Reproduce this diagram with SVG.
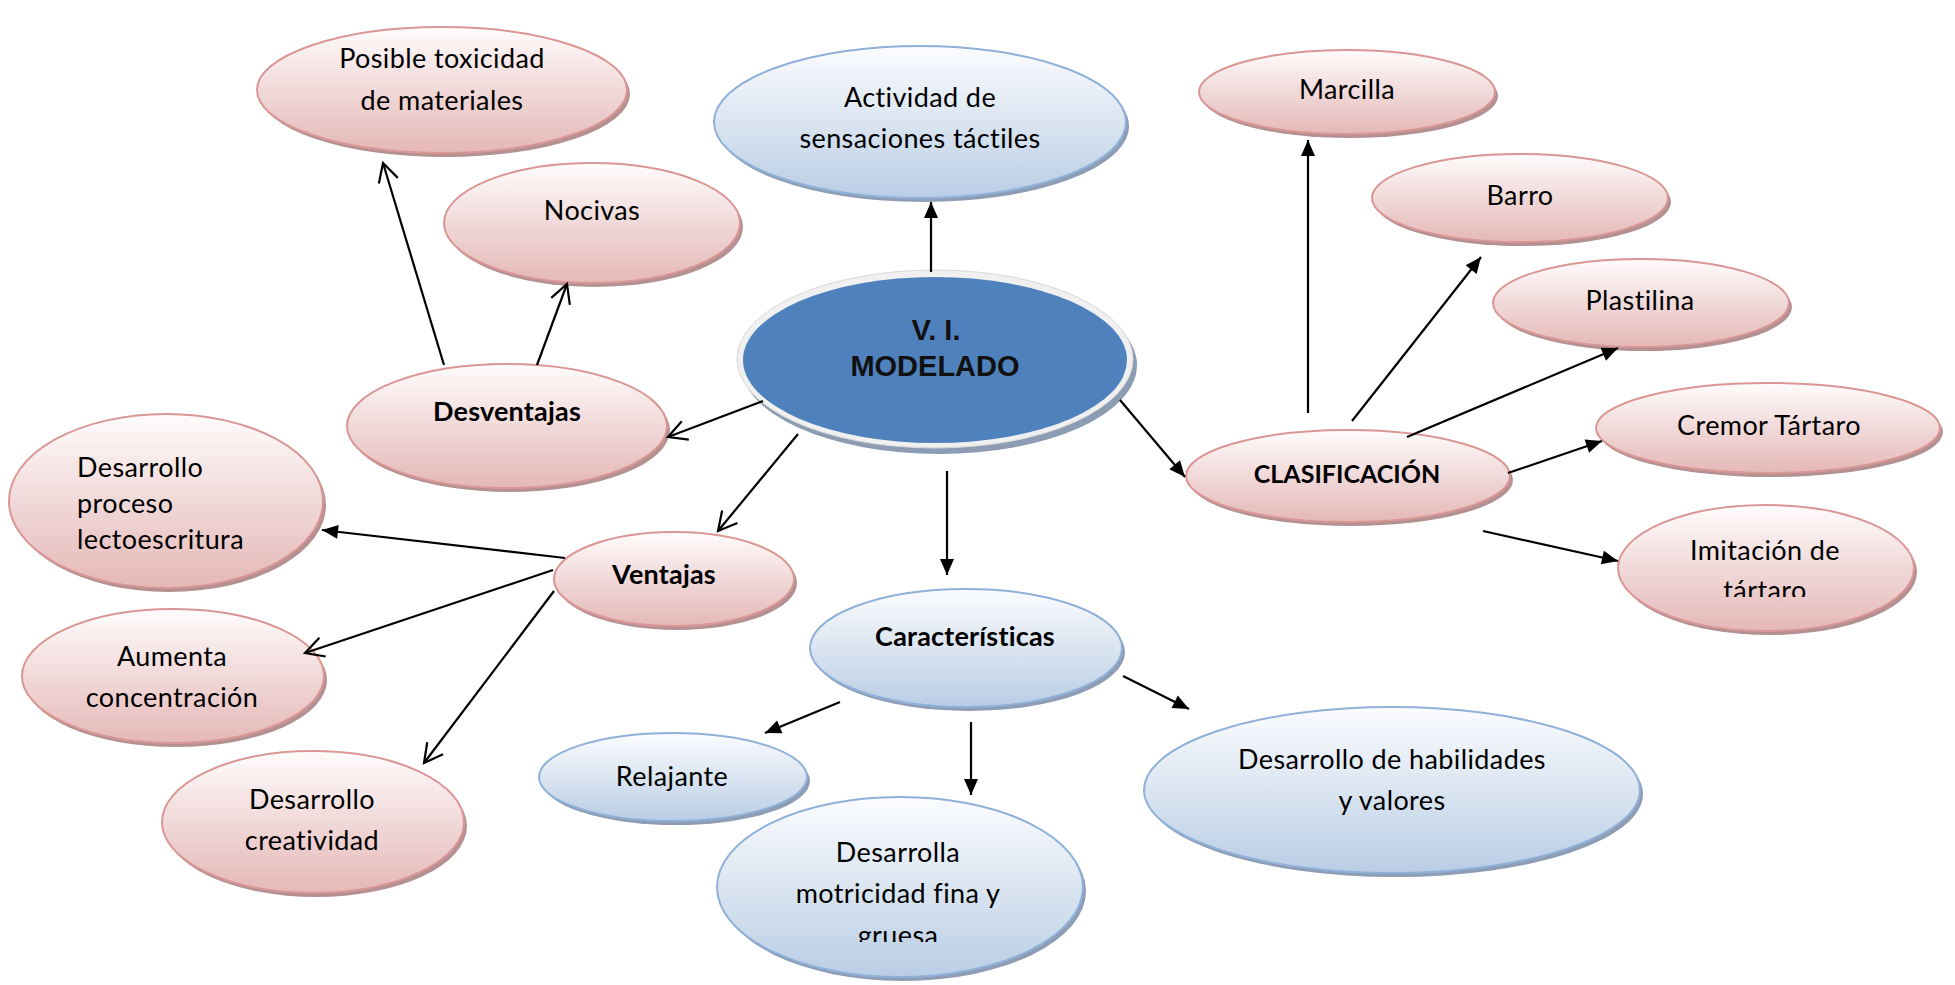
<svg xmlns="http://www.w3.org/2000/svg" width="1955" height="985" viewBox="0 0 1955 985">
<style>
.t{font-family:Lato,"Liberation Sans",sans-serif;font-size:27px;letter-spacing:0.4px;fill:#000;text-anchor:middle;font-variant-ligatures:none;font-feature-settings:"liga" 0,"clig" 0}
.b{font-weight:bold;letter-spacing:0.2px}
.l{text-anchor:start}
.pk{fill:url(#gPink);stroke:#d99694;stroke-width:2}
.bl{fill:url(#gBlue);stroke:#8fb0d8;stroke-width:2}
.shp{fill:#b39192}
.shb{fill:#8e9db4}
.c{stroke:#000;stroke-width:2.2;fill:none}
.fa{marker-end:url(#mFill)}
.oa{marker-end:url(#mOpen)}
.ct{font-family:"Liberation Sans",Arial,sans-serif;font-weight:bold;font-size:29px;fill:#111;text-anchor:middle}
</style>
<defs>
<linearGradient id="gPink" x1="0" y1="0" x2="0" y2="1">
<stop offset="0" stop-color="#fffcfc"/>
<stop offset="0.5" stop-color="#f1d9d9"/>
<stop offset="1" stop-color="#e5b8b7"/>
</linearGradient>
<linearGradient id="gBlue" x1="0" y1="0" x2="0" y2="1">
<stop offset="0" stop-color="#fbfcfe"/>
<stop offset="0.5" stop-color="#dbe5f1"/>
<stop offset="1" stop-color="#b9cde5"/>
</linearGradient>
<marker id="mFill" markerUnits="userSpaceOnUse" markerWidth="18" markerHeight="16" refX="16" refY="7" orient="auto" overflow="visible">
<path d="M0,0 L16,7 L0,14 z" fill="#000"/>
</marker>
<marker id="mOpen" markerUnits="userSpaceOnUse" markerWidth="24" markerHeight="24" refX="19.5" refY="10.9" orient="auto" overflow="visible">
<path d="M1,1 L19.5,10.9 L1,20.8" fill="none" stroke="#000" stroke-width="2.2"/>
</marker>
<clipPath id="clipMot"><rect x="700" y="780" width="400" height="162"/></clipPath>
<clipPath id="clipImi"><rect x="1600" y="500" width="330" height="97"/></clipPath>
</defs>

<g id="n-toxicidad">
<ellipse class="shp" cx="445" cy="94" rx="185" ry="63"/>
<ellipse class="pk" cx="442" cy="90" rx="185" ry="63"/>
<text class="t" x="442" y="68">Posible toxicidad</text>
<text class="t" x="442" y="110">de materiales</text>
</g>

<g id="n-nocivas">
<ellipse class="shp" cx="595" cy="227" rx="148" ry="60"/>
<ellipse class="pk" cx="592" cy="223" rx="148" ry="60"/>
<text class="t" x="592" y="220">Nocivas</text>
</g>

<g id="n-actividad">
<ellipse class="shb" cx="923" cy="126" rx="206" ry="76"/>
<ellipse class="bl" cx="920" cy="122" rx="206" ry="76"/>
<text class="t" x="920" y="107">Actividad de</text>
<text class="t" x="920" y="148">sensaciones táctiles</text>
</g>

<g id="n-central">
<ellipse cx="939" cy="365" rx="198" ry="89" fill="#8c9cb3"/>
<ellipse cx="935" cy="359" rx="198" ry="89" fill="#f0f0f0" stroke="#d8d8d8" stroke-width="1"/>
<ellipse cx="935" cy="360" rx="192" ry="83" fill="#4f81bd"/>
<text class="ct" x="936" y="340">V. I.</text>
<text class="ct" x="935" y="376">MODELADO</text>
</g>

<g id="n-desventajas">
<ellipse class="shp" cx="510" cy="430" rx="160" ry="62"/>
<ellipse class="pk" cx="507" cy="426" rx="160" ry="62"/>
<text class="t b" x="507" y="421">Desventajas</text>
</g>

<g id="n-proceso">
<ellipse class="shp" cx="169" cy="505" rx="157" ry="87"/>
<ellipse class="pk" cx="166" cy="501" rx="157" ry="87"/>
<text class="t l" x="77" y="477">Desarrollo</text>
<text class="t l" x="77" y="513">proceso</text>
<text class="t l" x="77" y="549">lectoescritura</text>
</g>

<g id="n-ventajas">
<ellipse class="shp" cx="677" cy="583" rx="120" ry="47"/>
<ellipse class="pk" cx="674" cy="579" rx="120" ry="47"/>
<text class="t b" x="664" y="584">Ventajas</text>
</g>

<g id="n-aumenta">
<ellipse class="shp" cx="176" cy="680" rx="151" ry="67"/>
<ellipse class="pk" cx="173" cy="676" rx="151" ry="67"/>
<text class="t" x="172" y="666">Aumenta</text>
<text class="t" x="172" y="707">concentración</text>
</g>

<g id="n-creatividad">
<ellipse class="shp" cx="316" cy="826" rx="151" ry="71"/>
<ellipse class="pk" cx="313" cy="822" rx="151" ry="71"/>
<text class="t" x="312" y="809">Desarrollo</text>
<text class="t" x="312" y="850">creatividad</text>
</g>

<g id="n-caracteristicas">
<ellipse class="shb" cx="969" cy="652" rx="156" ry="59"/>
<ellipse class="bl" cx="966" cy="648" rx="156" ry="59"/>
<text class="t b" x="965" y="646">Características</text>
</g>

<g id="n-relajante">
<ellipse class="shb" cx="676" cy="781" rx="134" ry="44"/>
<ellipse class="bl" cx="673" cy="777" rx="134" ry="44"/>
<text class="t" x="672" y="786">Relajante</text>
</g>

<g id="n-motricidad">
<ellipse class="shb" cx="903" cy="891" rx="183" ry="90"/>
<ellipse class="bl" cx="900" cy="887" rx="183" ry="90"/>
<text class="t" x="898" y="862">Desarrolla</text>
<text class="t" x="898" y="903">motricidad fina y</text>
<text class="t" x="898" y="945" clip-path="url(#clipMot)">gruesa</text>
</g>

<g id="n-habilidades">
<ellipse class="shb" cx="1395" cy="794" rx="248" ry="83"/>
<ellipse class="bl" cx="1392" cy="790" rx="248" ry="83"/>
<text class="t" x="1392" y="769">Desarrollo de habilidades</text>
<text class="t" x="1392" y="810">y valores</text>
</g>

<g id="n-clasificacion">
<ellipse class="shp" cx="1351" cy="480" rx="162" ry="46"/>
<ellipse class="pk" cx="1348" cy="476" rx="162" ry="46"/>
<text class="t b" x="1347" y="483" style="font-size:25px;letter-spacing:0">CLASIFICACIÓN</text>
</g>

<g id="n-marcilla">
<ellipse class="shp" cx="1350" cy="96" rx="148" ry="42"/>
<ellipse class="pk" cx="1347" cy="92" rx="148" ry="42"/>
<text class="t" x="1347" y="99">Marcilla</text>
</g>

<g id="n-barro">
<ellipse class="shp" cx="1523" cy="202" rx="148" ry="44"/>
<ellipse class="pk" cx="1520" cy="198" rx="148" ry="44"/>
<text class="t" x="1520" y="205">Barro</text>
</g>

<g id="n-plastilina">
<ellipse class="shp" cx="1644" cy="307" rx="148" ry="44"/>
<ellipse class="pk" cx="1641" cy="303" rx="148" ry="44"/>
<text class="t" x="1640" y="310">Plastilina</text>
</g>

<g id="n-cremor">
<ellipse class="shp" cx="1771" cy="432" rx="172" ry="45"/>
<ellipse class="pk" cx="1768" cy="428" rx="172" ry="45"/>
<text class="t" x="1769" y="435">Cremor Tártaro</text>
</g>

<g id="n-imitacion">
<ellipse class="shp" cx="1769" cy="572" rx="148" ry="63"/>
<ellipse class="pk" cx="1766" cy="568" rx="148" ry="63"/>
<text class="t" x="1765" y="560">Imitación de</text>
<text class="t" x="1765" y="600" clip-path="url(#clipImi)">tártaro</text>
</g>

<g id="connectors">
<line class="c fa" x1="931" y1="272" x2="931" y2="202"/>
<line class="c oa" x1="763" y1="401" x2="668" y2="437"/>
<line class="c oa" x1="444" y1="365" x2="383" y2="163"/>
<line class="c oa" x1="537" y1="365" x2="567" y2="284"/>
<line class="c oa" x1="798" y1="434" x2="718" y2="531"/>
<line class="c fa" x1="565" y1="558" x2="322" y2="530"/>
<line class="c oa" x1="553" y1="570" x2="305" y2="653"/>
<line class="c oa" x1="554" y1="591" x2="424" y2="763"/>
<line class="c fa" x1="947" y1="471" x2="947" y2="575"/>
<line class="c fa" x1="840" y1="702" x2="765" y2="733"/>
<line class="c fa" x1="971" y1="722" x2="971" y2="795"/>
<line class="c fa" x1="1123" y1="676" x2="1189" y2="709"/>
<line class="c fa" x1="1120" y1="400" x2="1185" y2="477"/>
<line class="c fa" x1="1308" y1="413" x2="1308" y2="140"/>
<line class="c fa" x1="1352" y1="421" x2="1481" y2="257"/>
<line class="c fa" x1="1407" y1="437" x2="1618" y2="348"/>
<line class="c fa" x1="1508" y1="473" x2="1602" y2="441"/>
<line class="c fa" x1="1483" y1="531" x2="1618" y2="561"/>
</g>
</svg>
